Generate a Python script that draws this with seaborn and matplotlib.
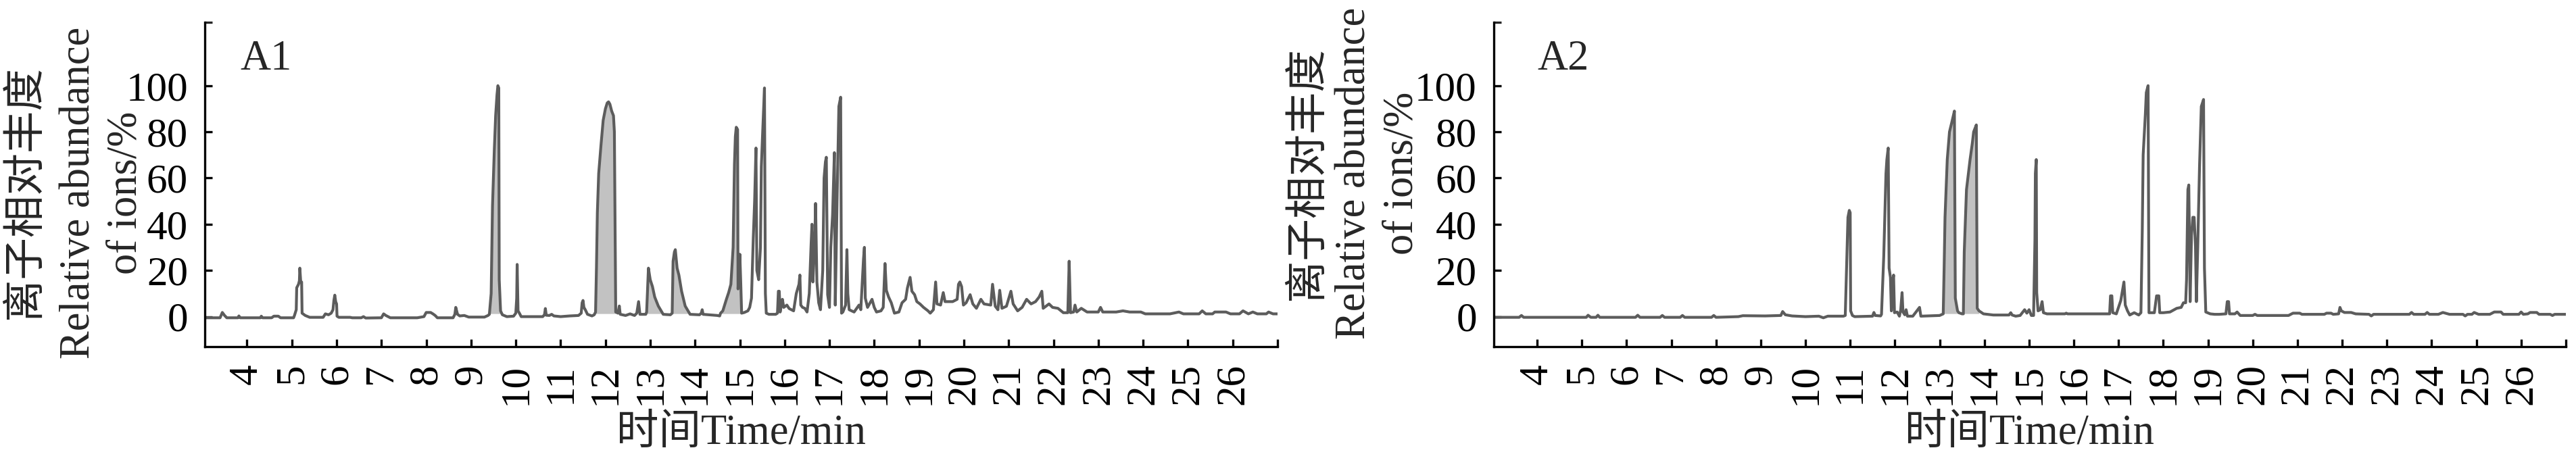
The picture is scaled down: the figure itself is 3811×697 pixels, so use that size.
import numpy as np
import pandas as pd
import matplotlib
matplotlib.use("Agg")
import matplotlib.pyplot as plt
import seaborn as sns

# Chromatogram traces: (time / min, relative abundance / %)
a1_trace = [
    (3.06, -0.5), (3.40, -0.5), (3.45, 1.8), (3.50, 0.5), (3.55, -0.5), (3.80, -0.5), (3.82, 0.3),
    (3.85, -0.5), (4.30, -0.5), (4.32, 0.2), (4.35, -0.5), (4.55, -0.5), (4.60, 0.2), (4.70, 0.2),
    (4.75, -0.5), (5.04, -0.5), (5.06, 0.5), (5.10, 3.0), (5.11, 12.5), (5.15, 14.0), (5.17, 15.5),
    (5.18, 21.0), (5.20, 15.0), (5.22, 15.0), (5.23, 1.5), (5.30, 0.5), (5.40, -0.3), (5.70, -0.3),
    (5.75, 1.2), (5.82, 0.8), (5.88, 1.5), (5.92, 3.0), (5.94, 7.0), (5.96, 9.3), (5.98, 6.5),
    (6.00, 5.5), (6.01, 0.2), (6.05, -0.3), (6.30, -0.3), (6.35, -0.5), (6.55, -0.5), (6.60, 0.0),
    (6.65, -0.6), (7.00, -0.5), (7.05, 1.2), (7.10, 0.5), (7.20, -0.5), (7.80, -0.5), (7.95, 0.0),
    (8.00, 1.8), (8.10, 1.8), (8.15, 1.2), (8.20, 0.5), (8.25, -0.5), (8.60, -0.5), (8.64, 1.0),
    (8.66, 4.0), (8.70, 1.0), (8.75, 0.3), (8.85, 0.5), (8.95, -0.2), (9.30, -0.2), (9.38, 0.5),
    (9.41, 1.0), (9.45, 10.0), (9.48, 48.0), (9.52, 72.0), (9.55, 87.0), (9.58, 96.0), (9.60, 100.0),
    (9.62, 99.0), (9.63, 16.0), (9.66, 2.5), (9.70, 0.8), (9.80, 0.0), (9.95, 0.2), (10.00, 1.5),
    (10.02, 8.0), (10.03, 22.6), (10.05, 2.5), (10.08, 1.5), (10.12, 0.0), (10.60, 0.0), (10.64, 0.8),
    (10.66, 3.5), (10.68, 0.6), (10.75, 0.5), (10.80, 1.0), (10.85, 0.3), (11.00, 0.0), (11.20, 0.3),
    (11.40, 0.5), (11.46, 1.5), (11.48, 6.0), (11.50, 7.0), (11.52, 4.0), (11.55, 3.0), (11.60, 1.0),
    (11.70, 0.3), (11.75, 0.8), (11.78, 2.0), (11.80, 21.0), (11.82, 45.0), (11.85, 62.0),
    (11.90, 74.0), (11.95, 85.0), (12.00, 90.0), (12.04, 92.5), (12.07, 93.0), (12.10, 92.0),
    (12.14, 89.0), (12.18, 87.0), (12.20, 80.0), (12.22, 30.0), (12.23, 2.0), (12.28, 1.5),
    (12.31, 4.6), (12.33, 1.0), (12.45, 0.5), (12.55, 1.2), (12.65, 0.5), (12.70, 1.5), (12.74, 6.5),
    (12.77, 1.0), (12.90, 1.0), (12.92, 2.0), (12.96, 21.0), (13.00, 16.0), (13.05, 13.0),
    (13.10, 8.5), (13.18, 4.6), (13.29, 1.0), (13.45, 0.8), (13.49, 1.5), (13.51, 24.0),
    (13.54, 28.0), (13.56, 29.0), (13.60, 21.0), (13.64, 18.0), (13.70, 11.0), (13.78, 4.6),
    (13.89, 1.0), (14.10, 0.8), (14.14, 1.5), (14.16, 3.0), (14.18, 1.0), (14.50, 0.5), (14.55, 0.3),
    (14.57, 1.5), (14.62, 2.5), (14.70, 7.5), (14.75, 10.4), (14.80, 14.0), (14.85, 30.0),
    (14.88, 66.0), (14.90, 78.0), (14.92, 82.0), (14.95, 81.0), (14.96, 12.0), (14.98, 20.0),
    (15.00, 27.0), (15.02, 15.0), (15.04, 1.5), (15.10, 1.8), (15.18, 2.5), (15.22, 4.0),
    (15.26, 8.0), (15.30, 34.0), (15.33, 50.0), (15.36, 73.0), (15.38, 20.0), (15.42, 16.0),
    (15.46, 30.0), (15.48, 65.0), (15.51, 80.0), (15.55, 99.0), (15.57, 10.0), (15.59, 1.5),
    (15.65, 1.0), (15.80, 1.0), (15.84, 1.5), (15.86, 11.0), (15.88, 11.0), (15.90, 2.0),
    (15.95, 7.5), (15.98, 4.0), (16.05, 5.0), (16.10, 3.5), (16.20, 2.5), (16.26, 10.0),
    (16.32, 14.0), (16.34, 18.0), (16.36, 5.0), (16.40, 4.0), (16.45, 3.6), (16.50, 2.0),
    (16.55, 10.0), (16.59, 31.0), (16.61, 40.0), (16.63, 15.0), (16.67, 31.0), (16.69, 49.0),
    (16.72, 15.0), (16.76, 6.0), (16.80, 3.0), (16.85, 20.0), (16.88, 60.0), (16.91, 67.0),
    (16.93, 69.0), (16.96, 9.5), (17.00, 4.0), (17.03, 30.0), (17.07, 44.0), (17.11, 71.0),
    (17.13, 5.0), (17.17, 50.0), (17.21, 91.0), (17.25, 95.0), (17.27, 1.5), (17.30, 2.0),
    (17.36, 5.0), (17.39, 29.0), (17.41, 10.0), (17.44, 3.0), (17.55, 2.0), (17.66, 5.0),
    (17.70, 3.0), (17.76, 25.0), (17.78, 30.0), (17.80, 8.0), (17.85, 4.0), (17.95, 7.5),
    (18.00, 4.0), (18.05, 2.0), (18.15, 2.5), (18.20, 4.0), (18.24, 23.0), (18.27, 11.4),
    (18.32, 8.5), (18.38, 6.0), (18.45, 1.5), (18.55, 2.0), (18.62, 6.0), (18.70, 7.5),
    (18.74, 12.4), (18.80, 17.0), (18.84, 11.0), (18.90, 9.5), (18.95, 6.5), (19.02, 5.5),
    (19.10, 4.0), (19.20, 2.5), (19.25, 1.5), (19.32, 3.0), (19.37, 15.0), (19.40, 5.5),
    (19.48, 5.0), (19.54, 10.4), (19.58, 6.5), (19.65, 6.5), (19.75, 6.5), (19.85, 7.5),
    (19.88, 14.0), (19.91, 15.0), (19.95, 13.0), (19.99, 5.0), (20.05, 6.0), (20.14, 9.5),
    (20.20, 5.5), (20.28, 3.6), (20.38, 7.5), (20.45, 5.5), (20.60, 5.0), (20.64, 14.0),
    (20.70, 4.5), (20.76, 3.0), (20.80, 11.4), (20.85, 3.6), (20.95, 4.5), (21.05, 11.0),
    (21.10, 5.5), (21.20, 2.5), (21.30, 4.0), (21.40, 7.5), (21.50, 5.5), (21.60, 6.5),
    (21.68, 8.5), (21.74, 11.0), (21.77, 3.6), (21.90, 5.5), (21.98, 4.0), (22.10, 3.6),
    (22.22, 1.7), (22.32, 1.7), (22.35, 24.0), (22.38, 1.7), (22.45, 2.0), (22.48, 5.0),
    (22.52, 2.0), (22.62, 3.6), (22.75, 2.0), (23.00, 2.0), (23.05, 4.0), (23.10, 2.0),
    (23.40, 2.0), (23.55, 2.5), (23.70, 2.0), (23.95, 2.0), (24.05, 1.2), (24.60, 1.2),
    (24.80, 2.0), (24.90, 1.2), (25.25, 1.2), (25.32, 2.5), (25.40, 1.2), (25.55, 1.2),
    (25.60, 2.0), (25.85, 2.0), (25.95, 1.2), (26.15, 1.2), (26.23, 2.5), (26.35, 1.2),
    (26.45, 2.0), (26.55, 1.2), (26.75, 1.2), (26.80, 2.0), (26.90, 1.2), (27.00, 1.2),
]

a2_trace = [
    (3.03, -0.3), (3.60, -0.3), (3.65, 0.5), (3.70, -0.3), (5.10, -0.3), (5.14, 0.6), (5.20, -0.3),
    (5.32, -0.3), (5.36, 0.6), (5.40, -0.3), (6.20, -0.3), (6.25, 0.6), (6.30, -0.3), (6.75, -0.3),
    (6.80, 0.5), (6.85, -0.3), (7.20, -0.3), (7.25, 0.5), (7.30, -0.3), (7.90, -0.3), (7.95, 0.5),
    (8.00, -0.3), (8.50, 0.0), (8.60, 0.4), (9.10, 0.3), (9.45, 0.5), (9.49, 2.2), (9.55, 0.8),
    (9.70, 0.3), (10.00, 0.0), (10.30, 0.2), (10.40, -0.5), (10.50, 0.2), (10.85, 0.2),
    (10.89, 0.5), (10.92, 22.0), (10.95, 43.0), (10.98, 46.0), (11.00, 45.0), (11.01, 2.5),
    (11.05, 0.5), (11.10, 0.0), (11.50, 0.2), (11.53, 1.8), (11.56, 0.5), (11.68, 0.3), (11.70, 1.0),
    (11.75, 26.0), (11.80, 62.0), (11.82, 68.0), (11.85, 73.0), (11.87, 21.0), (11.90, 17.0),
    (11.92, 2.5), (11.95, 15.0), (11.97, 18.0), (11.99, 1.7), (12.05, 2.0), (12.10, 0.2),
    (12.13, 3.0), (12.16, 10.4), (12.18, 2.0), (12.22, 0.8), (12.25, 3.0), (12.28, 0.2),
    (12.40, 0.2), (12.55, 4.0), (12.58, 0.2), (13.00, 0.5), (13.08, 1.2), (13.10, 21.0),
    (13.12, 43.0), (13.17, 68.0), (13.22, 80.0), (13.27, 84.0), (13.33, 89.0), (13.35, 8.0),
    (13.40, 2.5), (13.43, 1.7), (13.50, 1.2), (13.53, 1.2), (13.55, 28.0), (13.60, 55.0),
    (13.68, 68.0), (13.73, 75.0), (13.76, 80.0), (13.82, 83.0), (13.84, 3.6), (13.88, 2.5),
    (13.98, 1.2), (14.20, 0.7), (14.55, 0.7), (14.59, 1.7), (14.62, 0.7), (14.70, 0.2),
    (14.80, 0.5), (14.90, 3.0), (14.95, 1.5), (15.00, 3.0), (15.05, 0.5), (15.10, 0.5),
    (15.13, 33.0), (15.14, 62.0), (15.16, 68.0), (15.17, 10.4), (15.20, 2.5), (15.25, 3.0),
    (15.29, 6.5), (15.32, 1.7), (15.40, 1.2), (15.80, 1.2), (15.83, 1.5), (15.86, 1.2),
    (16.80, 1.2), (16.82, 9.0), (16.85, 9.0), (16.87, 1.7), (16.95, 1.2), (17.05, 7.0),
    (17.12, 15.0), (17.15, 5.0), (17.20, 2.5), (17.25, 0.7), (17.35, 1.7), (17.45, 0.7),
    (17.50, 1.7), (17.53, 37.0), (17.55, 70.0), (17.60, 88.0), (17.62, 97.0), (17.66, 100.0),
    (17.68, 1.7), (17.80, 1.7), (17.85, 9.0), (17.90, 9.0), (17.92, 1.7), (18.00, 1.7),
    (18.15, 2.0), (18.30, 3.6), (18.40, 4.0), (18.45, 6.0), (18.50, 6.0), (18.52, 16.0),
    (18.55, 55.0), (18.57, 57.0), (18.60, 6.5), (18.63, 35.0), (18.66, 43.0), (18.69, 43.0),
    (18.72, 30.0), (18.74, 6.5), (18.77, 30.0), (18.81, 65.0), (18.85, 91.0), (18.90, 94.0),
    (18.92, 21.0), (18.95, 2.0), (19.05, 1.2), (19.15, 1.0), (19.25, 1.0), (19.40, 1.2),
    (19.43, 6.5), (19.46, 6.5), (19.48, 1.2), (19.60, 1.2), (19.65, 2.0), (19.72, 0.5),
    (20.00, 0.5), (20.05, 1.0), (20.10, 0.5), (20.80, 0.5), (20.90, 1.5), (21.05, 1.5),
    (21.10, 1.0), (21.60, 1.0), (21.65, 1.5), (21.75, 1.5), (21.80, 1.0), (21.92, 1.2),
    (21.95, 4.0), (21.98, 2.5), (22.05, 1.8), (22.20, 1.8), (22.30, 1.2), (22.60, 1.0),
    (22.65, 0.3), (22.70, 1.0), (23.50, 1.0), (23.55, 1.8), (23.60, 1.0), (23.85, 1.0),
    (23.90, 1.8), (23.95, 1.0), (24.15, 1.0), (24.25, 1.8), (24.40, 1.0), (24.70, 1.0),
    (24.75, 0.3), (24.80, 1.0), (24.90, 1.0), (24.95, 1.8), (25.05, 1.0), (25.30, 1.0),
    (25.40, 2.0), (25.55, 2.0), (25.60, 1.0), (25.95, 1.0), (26.00, 2.0), (26.05, 1.0),
    (26.15, 1.2), (26.20, 1.8), (26.35, 1.8), (26.40, 1.0), (26.65, 1.0), (26.70, 0.5),
    (26.75, 1.0), (27.00, 1.0),
]

# integrated (shaded) peaks, start and end times
a1_shaded = [(9.41, 9.66), (11.78, 12.23), (12.92, 13.29), (13.49, 13.89), (14.57, 15.04)]
a2_shaded = [(13.08, 13.43), (13.53, 13.88)]

panel_names = ["A1", "A2"]
x_ticks = list(range(4, 28))
x_tick_labels = [str(t) for t in range(4, 27)] + [""]
y_ticks = [0, 20, 40, 60, 80, 100]
y_label_lines = ["离子相对丰度", "Relative abundance", "of ions/%"]
x_label = "时间Time/min"

sns.set_theme(style="ticks")
plt.rcParams['font.family'] = ['Liberation Serif', 'Noto Sans CJK SC']
plt.rcParams['axes.unicode_minus'] = False

line_color = "#5c5c5c"
fill_color = "#c2c2c2"
fs_tick = 44
fs_label = 45

fig = plt.figure(figsize=(38.12, 6.97), dpi=100)
ax1 = fig.add_axes([0.0795, 0.264, 0.4163, 0.689])
ax2 = fig.add_axes([0.5797, 0.264, 0.4161, 0.689])

# per panel: x limits, baseline x of the three y-label lines, their centre, panel-name position
panels = [
    (ax1, a1_trace, a1_shaded, (3.06, 27.0), [-0.157, -0.108, -0.064], 0.475, (0.033, 0.945)),
    (ax2, a2_trace, a2_shaded, (3.03, 27.0), [-0.163, -0.120, -0.076], 0.535, (0.041, 0.945)),
]

for (ax, trace, shaded, xlim, ylab_x, ylab_y, name_pos), name in zip(panels, panel_names):
    df = pd.DataFrame(trace, columns=["time", "abundance"])
    t = df["time"].to_numpy()
    v = df["abundance"].to_numpy()

    # shaded peaks under the trace
    for start, end in shaded:
        m = (t >= start) & (t <= end)
        ax.fill_between(t[m], 1.3, np.maximum(v[m], 1.3), color=fill_color, linewidth=0, zorder=1)

    sns.lineplot(data=df, x="time", y="abundance", ax=ax, sort=False, estimator=None,
                 color=line_color, linewidth=3.0, zorder=2)

    ax.set_xlim(*xlim)
    ax.set_ylim(-13, 127.5)
    ax.set_xticks(x_ticks)
    ax.set_xticklabels(x_tick_labels, rotation=90)
    ax.set_yticks(y_ticks)
    ax.set_yticklabels([str(y) for y in y_ticks])
    ax.set_yticks([127.5], minor=True)

    ax.tick_params(axis="both", which="major", direction="in", length=8, width=2.4,
                   pad=18, labelsize=fs_tick, colors="black")
    ax.tick_params(axis="y", which="minor", direction="in", length=8, width=2.4)

    sns.despine(ax=ax)
    for side in ["left", "bottom"]:
        ax.spines[side].set_linewidth(2.4)
        ax.spines[side].set_color("black")

    ax.set_ylabel("")
    for line, lx in zip(y_label_lines, ylab_x):
        ax.text(lx, ylab_y, line, transform=ax.transAxes, rotation=90, rotation_mode="anchor",
                ha="center", va="baseline", fontsize=fs_label)

    ax.set_xlabel(x_label, fontsize=fs_label)
    ax.xaxis.set_label_coords(0.5, -0.208)

    ax.text(name_pos[0], name_pos[1], name, transform=ax.transAxes, ha="left", va="top",
            fontsize=fs_label)

fig.savefig("out.png", dpi=100)
